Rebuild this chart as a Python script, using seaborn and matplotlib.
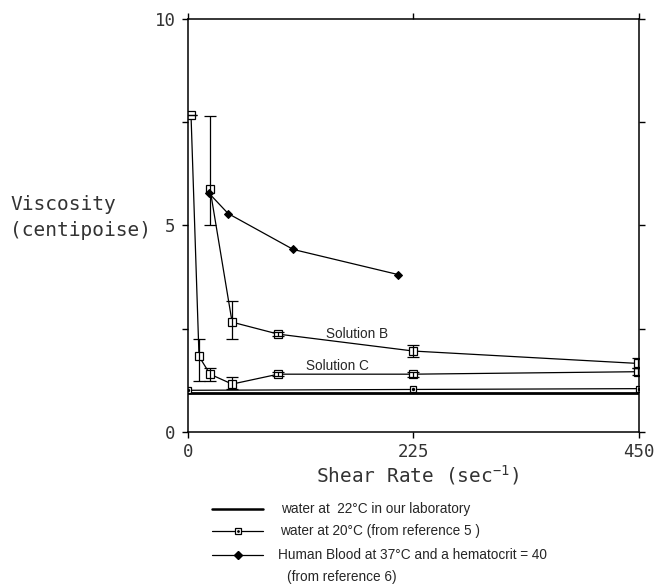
import numpy as np
import pandas as pd
import matplotlib
matplotlib.use("Agg")
import matplotlib.pyplot as plt
import seaborn as sns
from matplotlib.lines import Line2D

# ---- data ----
sol_c_x = [3, 11, 22, 44, 90, 225, 449]
sol_c_y = [7.68, 1.83, 1.40, 1.16, 1.40, 1.40, 1.46]
sol_c_err_lo = [0.0, 0.60, 0.17, 0.12, 0.05, 0.06, 0.08]
sol_c_err_hi = [0.0, 0.42, 0.15, 0.16, 0.05, 0.06, 0.08]

sol_b_x = [22, 44, 90, 225, 449]
sol_b_y = [5.88, 2.66, 2.37, 1.96, 1.66]
sol_b_err_lo = [0.88, 0.41, 0.05, 0.15, 0.12]
sol_b_err_hi = [1.77, 0.51, 0.05, 0.15, 0.12]

blood_x = [21, 40, 105, 210]
blood_y = [5.78, 5.29, 4.42, 3.81]

water20_x = [0, 225, 450]
water20_y = [1.01, 1.03, 1.05]

water22_x = [0, 450]
water22_y = [0.94, 0.94]

x_ticks = [0, 225, 450]
y_ticks = [0, 5, 10]

legend_labels = ["water at  22\u00b0C in our laboratory",
                 "water at 20\u00b0C (from reference 5 )",
                 "Human Blood at 37\u00b0C and a hematocrit = 40\n(from reference 6)"]

sns.set_theme(style="white")
plt.rcParams['font.family'] = ['DejaVu Sans Mono', 'DejaVu Sans']
plt.rcParams['mathtext.fontset'] = 'custom'
plt.rcParams['mathtext.rm'] = 'DejaVu Sans Mono'
plt.rcParams['mathtext.it'] = 'DejaVu Sans Mono'

W, H = 656, 588
fig = plt.figure(figsize=(W / 100, H / 100), dpi=100)
ax = fig.add_axes([188 / W, 1 - 432 / H, (639 - 188) / W, (432 - 19) / H])

k = 'black'
# water 22 (thick line)
sns.lineplot(x=water22_x, y=water22_y, ax=ax, color=k, lw=2.0, legend=False)
# water 20
sns.lineplot(x=water20_x, y=water20_y, ax=ax, color=k, lw=0.9, marker='s', markersize=5,
             markerfacecolor='white', markeredgecolor=k, markeredgewidth=0.9, legend=False)
ax.scatter(water20_x, water20_y, s=2, color=k, zorder=5)

# solution C
sns.lineplot(x=sol_c_x, y=sol_c_y, ax=ax, color=k, lw=0.9, marker='s', markersize=6,
             markerfacecolor='white', markeredgecolor=k, markeredgewidth=0.9, legend=False)
ax.errorbar(sol_c_x, sol_c_y, yerr=[sol_c_err_lo, sol_c_err_hi], fmt='none', ecolor=k,
            elinewidth=0.9, capsize=4.5, capthick=0.9)
# solution B
sns.lineplot(x=sol_b_x, y=sol_b_y, ax=ax, color=k, lw=0.9, marker='s', markersize=6,
             markerfacecolor='white', markeredgecolor=k, markeredgewidth=0.9, legend=False)
ax.errorbar(sol_b_x, sol_b_y, yerr=[sol_b_err_lo, sol_b_err_hi], fmt='none', ecolor=k,
            elinewidth=0.9, capsize=4.5, capthick=0.9)
# blood
sns.lineplot(x=blood_x, y=blood_y, ax=ax, color=k, lw=0.9, marker='D', markersize=4.5,
             markerfacecolor=k, markeredgecolor=k, legend=False)

ax.text(169, 2.38, "Solution B", family='Liberation Sans', fontsize=9.8, ha='center', va='center')
ax.text(149, 1.61, "Solution C", family='Liberation Sans', fontsize=9.8, ha='center', va='center')

ax.set_xlim(0, 450)
ax.set_ylim(0, 10)
ax.set_xticks(x_ticks)
ax.set_xticklabels([str(v) for v in x_ticks])
ax.set_yticks(y_ticks)
ax.set_yticklabels([str(v) for v in y_ticks])
ax.set_yticks([2.5, 7.5], minor=True)
for s in ax.spines.values():
    s.set_color(k)
    s.set_linewidth(1.1)
ax.tick_params(axis='both', which='both', direction='out', length=4, width=1, color=k,
               labelsize=12.5, labelcolor='#333333')
ax.tick_params(axis='y', which='both', left=True, right=True, pad=5)
ax.tick_params(axis='x', which='both', bottom=True, top=True, pad=4)
ax.set_xlabel("")
ax.set_ylabel("")

fig.text(10 / W, 1 - 205 / H, "Viscosity", fontsize=14, color='#333333', ha='left', va='center')
fig.text(10 / W, 1 - 231 / H, "(centipoise)", fontsize=14, color='#333333', ha='left', va='center')
fig.text(418 / W, 1 - 475 / H, r"Shear Rate (sec$^{-1}$)", fontsize=14, color='#333333',
         ha='center', va='center')

# legend drawn manually
rows = [509, 531, 555]
x0, x1 = 212 / W, 263 / W
xm = (x0 + x1) / 2
fig.add_artist(Line2D([x0, x1], [1 - rows[0] / H] * 2, color=k, lw=1.8, transform=fig.transFigure))
fig.add_artist(Line2D([x0, x1], [1 - rows[1] / H] * 2, color=k, lw=0.9, transform=fig.transFigure))
fig.add_artist(Line2D([xm], [1 - rows[1] / H], marker='s', markersize=5, markerfacecolor='white',
                      markeredgecolor=k, markeredgewidth=0.9, transform=fig.transFigure))
fig.add_artist(Line2D([xm], [1 - rows[1] / H], marker='.', markersize=2, color=k,
                      transform=fig.transFigure))
fig.add_artist(Line2D([x0, x1], [1 - rows[2] / H] * 2, color=k, lw=0.9, transform=fig.transFigure))
fig.add_artist(Line2D([xm], [1 - rows[2] / H], marker='D', markersize=4, color=k,
                      transform=fig.transFigure))
fig.text(281 / W, 1 - rows[0] / H, legend_labels[0], family='Liberation Sans', fontsize=9.8,
         ha='left', va='center')
fig.text(280 / W, 1 - rows[1] / H, legend_labels[1], family='Liberation Sans', fontsize=9.8,
         ha='left', va='center')
fig.text(278 / W, 1 - rows[2] / H, legend_labels[2].split("\n")[0], family='Liberation Sans',
         fontsize=9.8, ha='left', va='center')
fig.text(287 / W, 1 - 577 / H, legend_labels[2].split("\n")[1], family='Liberation Sans',
         fontsize=9.8, ha='left', va='center')

fig.savefig("out.png", dpi=100)
